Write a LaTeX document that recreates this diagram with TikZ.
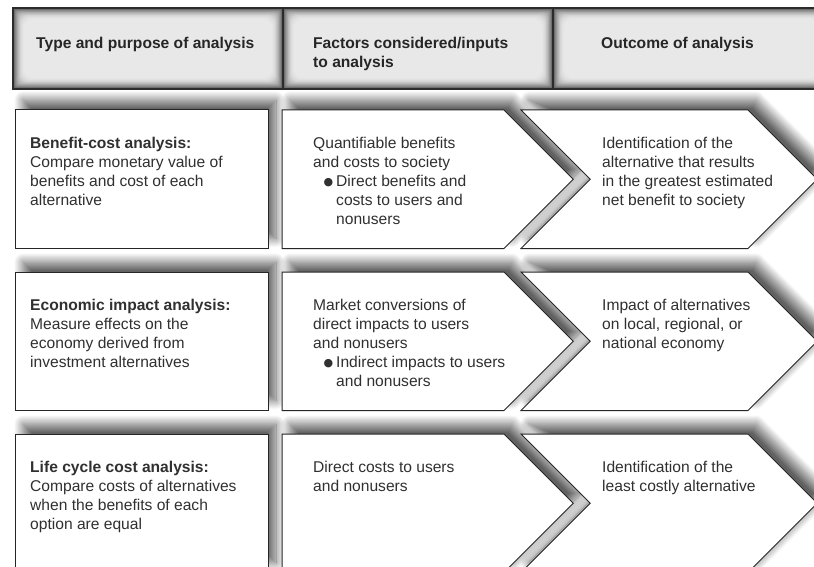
\documentclass[tikz,border=0pt]{standalone}
\usepackage{fontspec}
\setmainfont{Liberation Sans}
\newfontfamily\bulletfont{DejaVu Sans}
\usetikzlibrary{shadows.blur}
\definecolor{hdrdark}{HTML}{585858}
\definecolor{hdrlight}{HTML}{E9E9E9}
\definecolor{hdrline}{HTML}{2B2B2B}
\definecolor{txtcol}{HTML}{303030}
\newcommand{\bul}{\raisebox{0.5pt}{\bulletfont\fontsize{11}{11}\selectfont ●}}
\newcommand{\analysisbox}[1]{(15,#1) rectangle ++(253,138.5)}
\newcommand{\inputbox}[1]{(282,#1) -- ++(222,0) -- ++(69.25,69.25) -- ++(-69.25,69.25) -- ++(-222,0) -- cycle}
\newcommand{\outcomebox}[1]{(521,#1) -- ++(227,0) -- ++(69.25,69.25) -- ++(-69.25,69.25) -- ++(-227,0) -- ++(69.25,-69.25) -- cycle}
\begin{document}
\begin{tikzpicture}[x=1pt,y=-1pt]
  \tikzset{cell/.style = {draw=black!85, line width=1pt, fill=white, line join=miter}}
  \tikzset{cellshadow/.style = {blur shadow={shadow xshift=8pt, shadow yshift=10pt, shadow blur radius=9pt, shadow blur steps=16, shadow opacity=62}}}
  \tikzset{txt/.style = {anchor=north west, inner sep=0pt, align=left, text=txtcol, font=\fontsize{15.6}{19}\selectfont}}
  \tikzset{hdtxt/.style = {txt, text=black!85, font=\fontsize{15.6}{19}\selectfont\bfseries}}
	\useasboundingbox (0,0) rectangle (814,567);
	\clip (0,0) rectangle (814,567);

	% header cells with inner shadow
	\foreach \a/\b in {13/283,283/553,553/830} {
	  \foreach \i in {0,...,12} {
	    \pgfmathsetmacro{\p}{100*(1-\i/13)^2}
	    \fill[hdrdark!\p!hdrlight, rounded corners=\i*0.8pt] (\a+\i*0.9,8+\i*0.9) rectangle (\b-\i*0.9,89-\i*0.9);
	  }
	}
	\draw[hdrline, line width=2pt] (13,8) -- (830,8) (13,89) -- (830,89) (13,7) -- (13,90);
	\draw[hdrline, line width=1.5pt] (283,8) -- (283,89) (553,8) -- (553,89);

	\node[hdtxt] (hdtype) at (36,36.5) {Type and purpose of analysis};
	\node[hdtxt] (hdinput) at (313,36.5) {Factors considered/inputs\\to analysis};
	\node[hdtxt] (hdout) at (601,36.5) {Outcome of analysis};

	% rows
	\foreach \t in {110,272,434} {
	  \path[cellshadow] \analysisbox{\t};
	  \path[cellshadow] \inputbox{\t};
	  \path[cellshadow] \outcomebox{\t};
	}
	\foreach \t in {110,272,434} {
	  \draw[cell] \analysisbox{\t};
	  \draw[cell] \inputbox{\t};
	  \draw[cell] \outcomebox{\t};
	}

	\node[txt] (type1) at (30,136.5) {\textbf{Benefit-cost analysis:}\\Compare monetary value of\\benefits and cost of each\\alternative};
	\node[txt] (input1) at (313,136.5) {Quantifiable benefits\\and costs to society\\\hspace*{10.5pt}\makebox[12.5pt][l]{\bul}Direct benefits and\\\hspace*{23pt}costs to users and\\\hspace*{23pt}nonusers};
	\node[txt] (out1) at (602,136.5) {Identification of the\\alternative that results\\in the greatest estimated\\net benefit to society};

	\node[txt] (type2) at (30,298.5) {\textbf{Economic impact analysis:}\\Measure effects on the\\economy derived from\\investment alternatives};
	\node[txt] (input2) at (313,298.5) {Market conversions of\\direct impacts to users\\and nonusers\\\hspace*{10.5pt}\makebox[12.5pt][l]{\bul}Indirect impacts to users\\\hspace*{23pt}and nonusers};
	\node[txt] (out2) at (602,298.5) {Impact of alternatives\\on local, regional, or\\national economy};

	\node[txt] (type3) at (30,460.5) {\textbf{Life cycle cost analysis:}\\Compare costs of alternatives\\when the benefits of each\\option are equal};
	\node[txt] (input3) at (313,460.5) {Direct costs to users\\and nonusers};
	\node[txt] (out3) at (602,460.5) {Identification of the\\least costly alternative};
\end{tikzpicture}
\end{document}
